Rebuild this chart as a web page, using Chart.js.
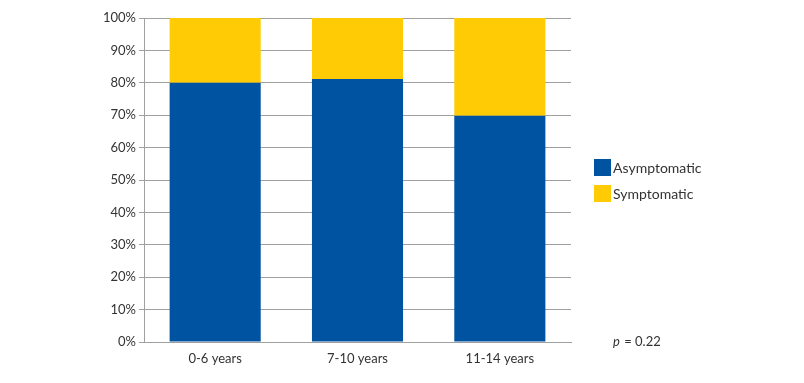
<!DOCTYPE html>
<html><head><meta charset="utf-8">
<script src="https://cdn.jsdelivr.net/npm/chart.js@4"></script>
<style>html,body{margin:0;padding:0;background:#fff}#wrap{width:804px;height:383px}</style>
</head><body><div id="wrap"><canvas id="c" width="804" height="383"></canvas></div>
<script>
const categories = ['0-6 years', '7-10 years', '11-14 years'];
const asymptomatic = [80, 81.2, 69.8];
const symptomatic = [20, 18.8, 30.2];
const yTicks = [0, 10, 20, 30, 40, 50, 60, 70, 80, 90, 100];
const seriesNames = ['Asymptomatic', 'Symptomatic'];
const colors = ['#0053a0', '#ffcb05'];
const FONT = 'Lato, "Open Sans", sans-serif';

const extras = {
  id: 'extras',
  afterDraw(chart) {
    const ctx = chart.ctx;
    ctx.save();
    ctx.font = '14px ' + FONT;
    ctx.textBaseline = 'middle';
    ctx.textAlign = 'left';
    seriesNames.forEach((n, i) => {
      const y = 167 + i * 26;
      ctx.fillStyle = colors[i];
      ctx.fillRect(594, y - 8, 17, 17);
      ctx.fillStyle = '#333';
      ctx.fillText(n, 613, y + 1);
    });
    ctx.font = 'italic 13px ' + FONT;
    ctx.fillStyle = '#333';
    ctx.fillText('p', 613, 342);
    const pw = ctx.measureText('p').width;
    ctx.font = '13px ' + FONT;
    ctx.fillText(' = 0.22', 613 + pw + 1, 342);
    ctx.restore();
  }
};

new Chart(document.getElementById('c'), {
  type: 'bar',
  data: {
    labels: categories,
    datasets: [
      { label: seriesNames[0], data: asymptomatic, backgroundColor: colors[0], borderWidth: 0 },
      { label: seriesNames[1], data: symptomatic, backgroundColor: colors[1], borderWidth: 0 }
    ]
  },
  options: {
    responsive: false,
    animation: false,
    layout: { padding: { left: 0, right: 233, top: 18, bottom: 0 } },
    plugins: { legend: { display: false }, tooltip: { enabled: false } },
    datasets: { bar: { categoryPercentage: 1, barPercentage: 0.64 } },
    scales: {
      x: {
        stacked: true,
        grid: { display: false, drawTicks: false },
        border: { display: true, color: '#a0a0a0' },
        ticks: { color: '#333', font: { family: FONT, size: 13 }, padding: 9 },
        afterFit: s => { s.height = 41; }
      },
      y: {
        stacked: true,
        min: 0, max: 100,
        afterBuildTicks: s => { s.ticks = yTicks.map(v => ({ value: v })); },
        grid: { color: '#a0a0a0', tickLength: 5, drawTicks: true },
        border: { display: true, color: '#a0a0a0' },
        ticks: { color: '#333', font: { family: FONT, size: 13 }, padding: 3, callback: v => v + '%' },
        afterFit: s => { s.width = 144; }
      }
    }
  },
  plugins: [extras]
});
</script>
</body></html>
